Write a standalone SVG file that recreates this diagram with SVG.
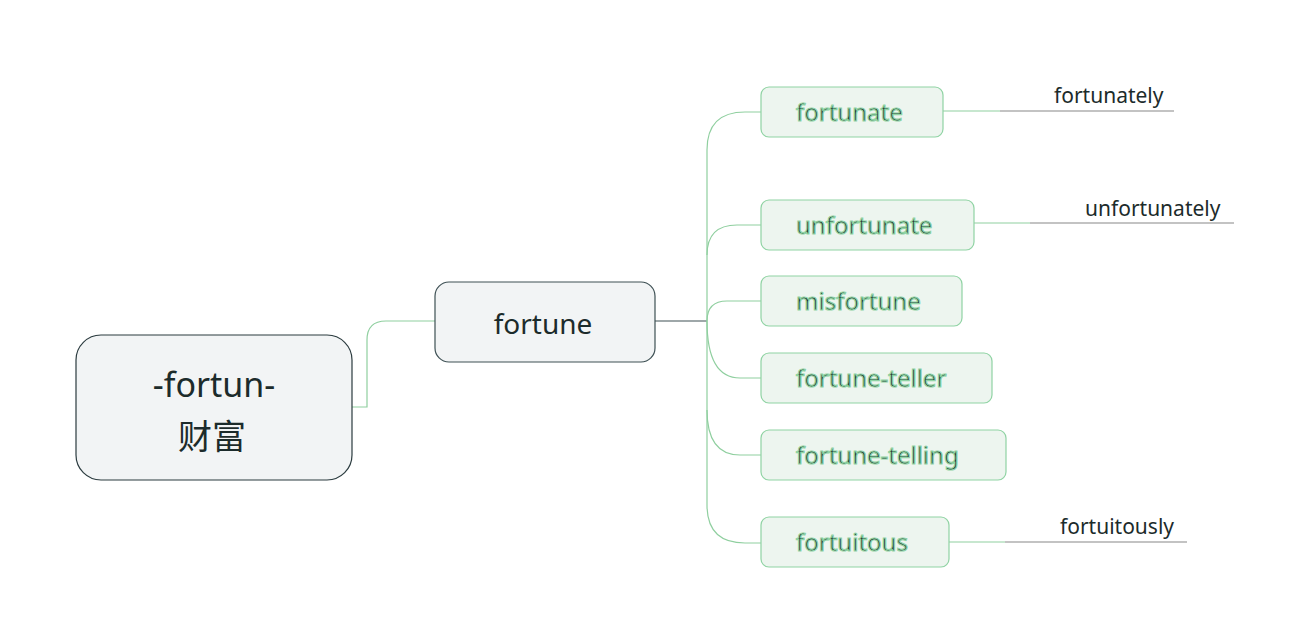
<svg xmlns="http://www.w3.org/2000/svg" width="1310" height="643" viewBox="0 0 1310 643">
<style>
text{font-family:"Noto Sans","Open Sans","Noto Sans CJK SC",sans-serif;fill:#1c2b2b}
.c{fill:none;stroke:#8fcf9f;stroke-width:1.2}
.g{fill:none;stroke:#888;stroke-width:1.2}
.k{fill:none;stroke:#3e5054;stroke-width:1.2}
.ch{fill:#edf5ef;stroke:#8fd3a3;stroke-width:1.2}
.ch text{font-size:24px}
.lf{font-size:21px}
</style>
<rect width="1310" height="643" fill="#fff"/>
<g id="connectors">
<path class="c" d="M352,407 H367 V340 Q367,321 386,321 H435"/>
<path class="k" d="M655,321 H707"/>
<path class="c" d="M761,112 H745 Q707,112 707,150 V505 Q707,543 745,543 H761"/>
<path class="c" d="M707,255 Q707,225 737,225 H761"/>
<path class="c" d="M707,321 Q707,301 727,301 H761"/>
<path class="c" d="M707,321 Q707,378 740,378 H761"/>
<path class="c" d="M707,410 Q707,455 740,455 H761"/>
<path class="c" d="M943,111 H1000"/><path class="g" d="M1000,111 H1174"/>
<path class="c" d="M974,223 H1030"/><path class="g" d="M1030,223 H1234"/>
<path class="c" d="M949,542 H1005"/><path class="g" d="M1005,542 H1187"/>
</g>
<g id="root"><rect x="76" y="335" width="276" height="145" rx="25" fill="#f2f4f5" stroke="#2b3b3f" stroke-width="1.2"/>
<text x="214" y="397" font-size="34" text-anchor="middle">-fortun-</text>
<text x="212" y="449" font-size="34" text-anchor="middle">财富</text></g>
<g id="fortune"><rect x="435" y="282" width="220" height="80" rx="14" fill="#f2f4f5" stroke="#3e5054" stroke-width="1.2"/>
<text x="543" y="334" font-size="28" text-anchor="middle">fortune</text></g>
<g id="fortunate" class="ch"><rect x="761" y="87" width="182" height="50" rx="8"/><text x="796" y="121">fortunate</text></g>
<g id="unfortunate" class="ch"><rect x="761" y="200" width="213" height="50" rx="8"/><text x="796" y="234">unfortunate</text></g>
<g id="misfortune" class="ch"><rect x="761" y="276" width="201" height="50" rx="8"/><text x="796" y="310">misfortune</text></g>
<g id="fortune-teller" class="ch"><rect x="761" y="353" width="231" height="50" rx="8"/><text x="796" y="387">fortune-teller</text></g>
<g id="fortune-telling" class="ch"><rect x="761" y="430" width="245" height="50" rx="8"/><text x="796" y="464">fortune-telling</text></g>
<g id="fortuitous" class="ch"><rect x="761" y="517" width="188" height="50" rx="8"/><text x="796" y="551">fortuitous</text></g>
<g id="fortunately"><text class="lf" x="1054" y="103">fortunately</text></g>
<g id="unfortunately"><text class="lf" x="1085" y="216">unfortunately</text></g>
<g id="fortuitously"><text class="lf" x="1060" y="534">fortuitously</text></g>
</svg>
